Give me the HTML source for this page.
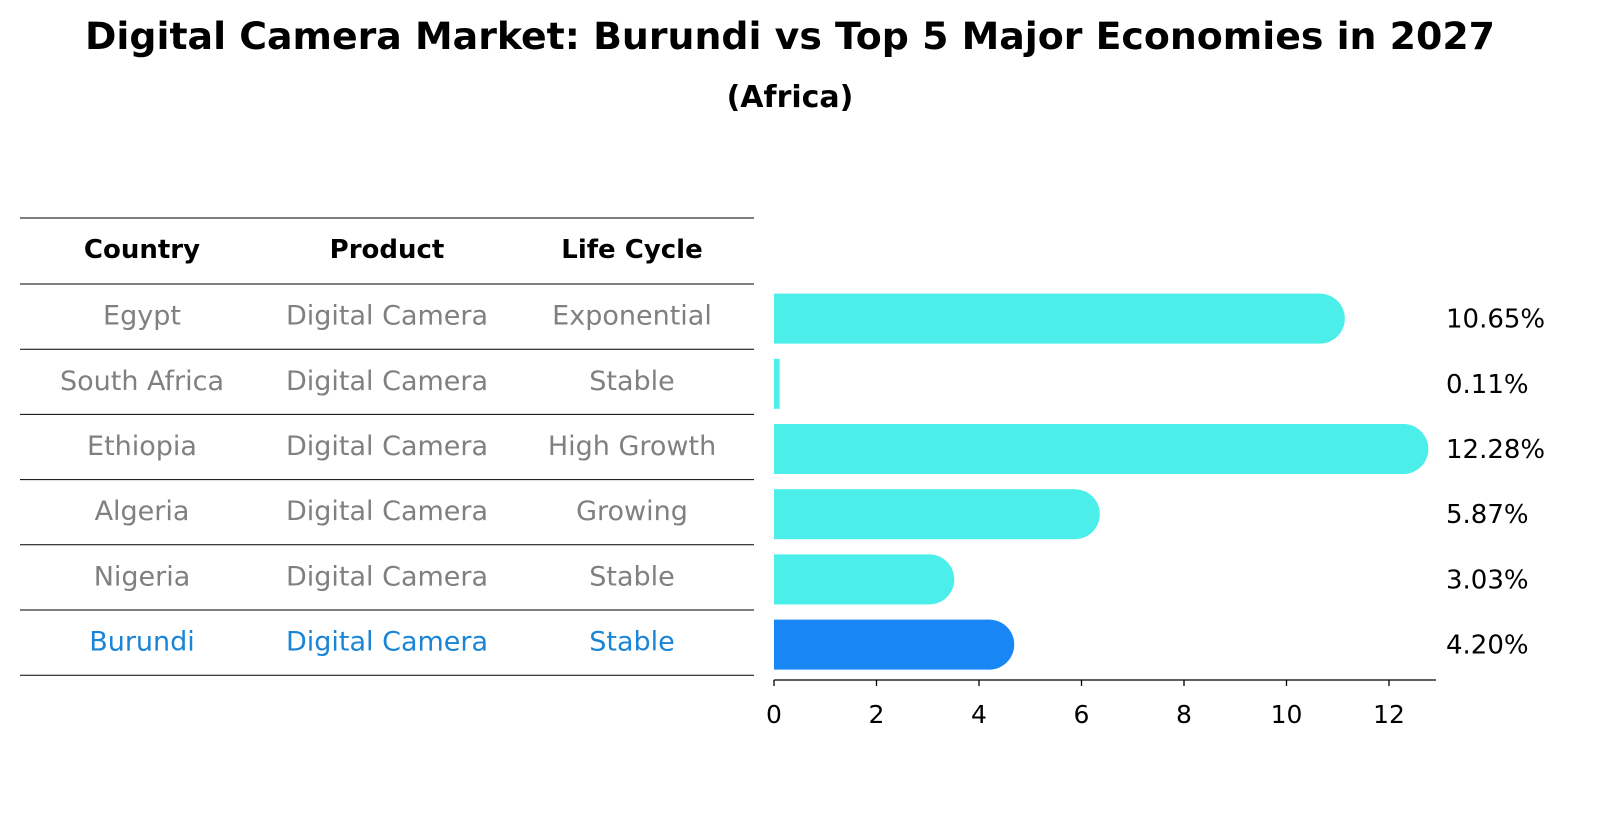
<!DOCTYPE html>
<html><head><meta charset="utf-8"><style>
body{margin:0;background:#fff;font-family:"DejaVu Sans","Liberation Sans",sans-serif;}
#wrap{position:relative;width:1604px;height:823px;overflow:hidden;}
</style></head><body>
<div id="wrap">
<svg id="svg" width="1604" height="823" xmlns="http://www.w3.org/2000/svg">
<text x="790" y="49" text-anchor="middle" font-size="37" font-weight="bold" fill="#000" textLength="1410" lengthAdjust="spacingAndGlyphs">Digital Camera Market: Burundi vs Top 5 Major Economies in 2027</text>
<text x="790" y="107" text-anchor="middle" font-size="30" font-weight="bold" fill="#000">(Africa)</text>
<g id="table"></g>
<g id="bars"></g>
</svg>
</div>
<script>
const countries=["Egypt","South Africa","Ethiopia","Algeria","Nigeria","Burundi"];
const products=["Digital Camera","Digital Camera","Digital Camera","Digital Camera","Digital Camera","Digital Camera"];
const lifeCycles=["Exponential","Stable","High Growth","Growing","Stable","Stable"];
const values=[10.65,0.11,12.28,5.87,3.03,4.20];
const valueLabels=["10.65%","0.11%","12.28%","5.87%","3.03%","4.20%"];
const xTicks=[0,2,4,6,8,10,12];

const NS="http://www.w3.org/2000/svg";
function mk(tag,attrs,parent){const e=document.createElementNS(NS,tag);for(const k in attrs)e.setAttribute(k,attrs[k]);parent.appendChild(e);return e;}
const x0=774,pxPer=51.25;
const xs=v=>x0+v*pxPer;
const rowTop=284,rowH=65.2;
const yc=i=>rowTop+rowH*i+rowH/2;
const table=document.getElementById('table');
const bars=document.getElementById('bars');
const colX=[142,387,632];
for(let i=0;i<=countries.length+1;i++){
  const y=i===0?218:rowTop+rowH*(i-1);
  const l=mk('line',{x1:20,x2:754,y1:y,y2:y,stroke:'#000','stroke-width':1},table);
  
  
}
["Country","Product","Life Cycle"].forEach((h,j)=>{
  const t=mk('text',{x:colX[j],y:258,'text-anchor':'middle','font-size':26,'font-weight':'bold',fill:'#000'},table);
  t.textContent=h;
  
  
});
countries.forEach((c,i)=>{
  const col=c==="Burundi"?"#1a85d6":"#808080";
  [c,products[i],lifeCycles[i]].forEach((s,j)=>{
    const t=mk('text',{x:colX[j],y:yc(i)+8,'text-anchor':'middle','font-size':27,fill:col},table);
    t.textContent=s;
    
    
  });
  const bh=50,y=yc(i)-bh/2+2;
  const color=c==="Burundi"?"#1886f4":"#4beee9";
  const w=xs(values[i])-x0;
  const r=mk('rect',{x:x0,y:y,width:Math.max(w,0),height:bh,fill:color},bars);
  
  
  if(values[i]>=1){
    const cap=mk('circle',{cx:xs(values[i]),cy:y+bh/2,r:bh/2,fill:color},bars);
    
    
  }
  const vt=mk('text',{x:1446,y:yc(i)+11,'font-size':26,fill:'#000'},bars);
  vt.textContent=valueLabels[i];
  
  
});
const ax=mk('line',{x1:x0,x2:1436,y1:680,y2:680,stroke:'#000','stroke-width':1.3},bars);


xTicks.forEach(v=>{
  const tk=mk('line',{x1:xs(v),x2:xs(v),y1:680,y2:686,stroke:'#000','stroke-width':1.3},bars);
  
  
  const tl=mk('text',{x:xs(v),y:723,'text-anchor':'middle','font-size':25,fill:'#000'},bars);
  tl.textContent=v;
  
  
});
</script>
</body></html>
